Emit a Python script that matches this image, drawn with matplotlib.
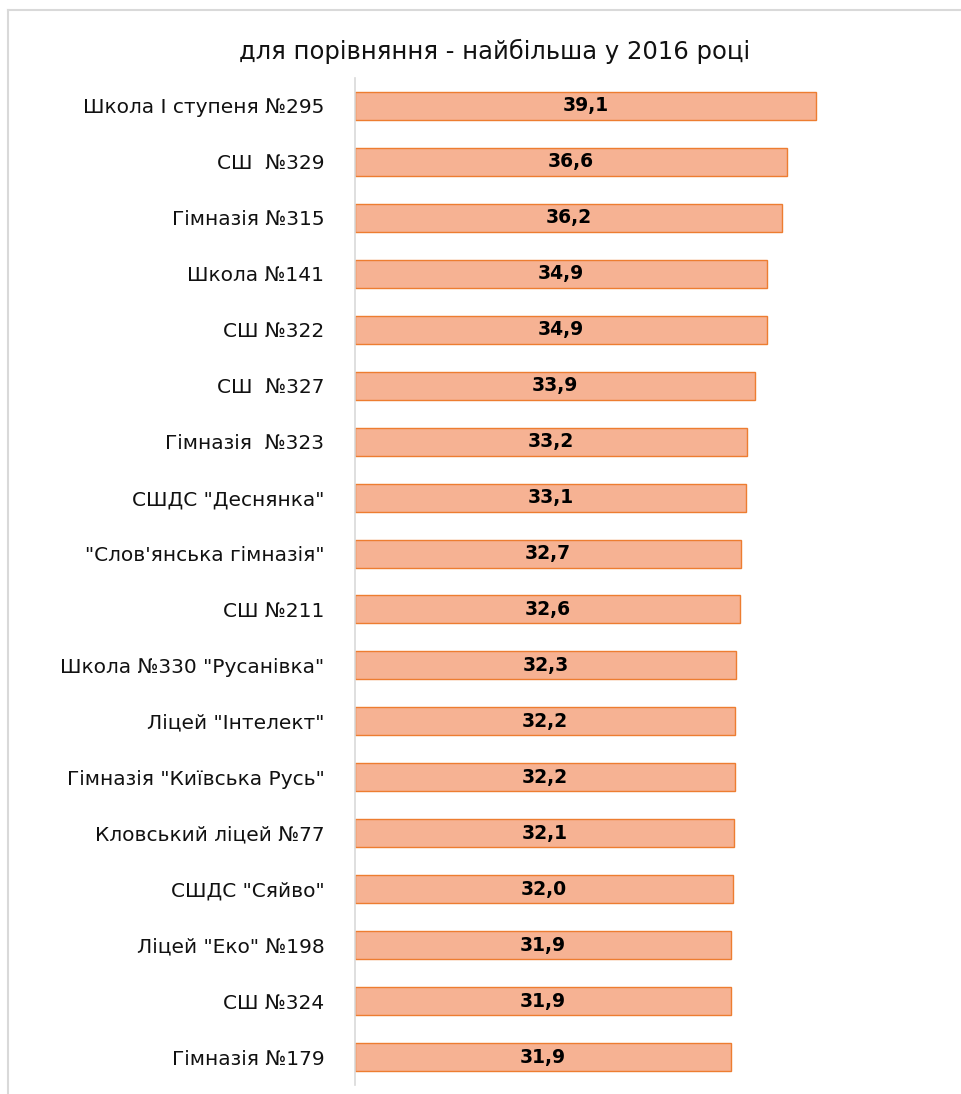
import matplotlib
matplotlib.use("Agg")
import matplotlib.pyplot as plt
from matplotlib.lines import Line2D
import numpy as np

categories = [
    "Школа І ступеня №295", "СШ  №329", "Гімназія №315", "Школа №141", "СШ №322",
    "СШ  №327", "Гімназія  №323", "СШДС \"Деснянка\"", "\"Слов'янська гімназія\"",
    "СШ №211", "Школа №330 \"Русанівка\"", "Ліцей \"Інтелект\"", "Гімназія \"Київська Русь\"",
    "Кловський ліцей №77", "СШДС \"Сяйво\"", "Ліцей \"Еко\" №198", "СШ №324", "Гімназія №179",
]
values = [39.1, 36.6, 36.2, 34.9, 34.9, 33.9, 33.2, 33.1, 32.7, 32.6, 32.3, 32.2, 32.2,
          32.1, 32.0, 31.9, 31.9, 31.9]
title = "для порівняння - найбільша у 2016 році"

plt.rcParams['font.family'] = ['DejaVu Sans']

fig = plt.figure(figsize=(9.61, 10.94), dpi=100)
ax = fig.add_axes([355/961, 9/1094, 590/961, 1007/1094])

y = np.arange(len(categories))
ax.barh(y, values, height=0.5, color="#F6B293", edgecolor="#ED7D31", linewidth=1.0, zorder=2)
ax.set_xlim(0, 50)
ax.set_ylim(len(categories) - 0.5, -0.5)

for yi, v in zip(y, values):
    ax.text(v / 2, yi, f"{v:.1f}".replace(".", ","), ha="center", va="center",
            fontsize=13.5, fontweight="bold", color="black", zorder=3)

ax.set_yticks(y)
ax.set_yticklabels(categories, fontsize=14.5, color="#111111")
ax.tick_params(axis="y", length=0, pad=22)
ax.set_xticks([])
for s in ["top", "right", "bottom"]:
    ax.spines[s].set_visible(False)
ax.spines["left"].set_color("#D9D9D9")
ax.spines["left"].set_linewidth(1.2)

fig.text(495/961, 1 - 51/1094, title, ha="center", va="center", fontsize=17.5, color="#111111")

# chart frame
fig.add_artist(Line2D([8/961, 1], [1 - 10/1094, 1 - 10/1094], color="#D9D9D9", lw=1.5))
fig.add_artist(Line2D([8/961, 8/961], [0, 1 - 10/1094], color="#D9D9D9", lw=1.5))

fig.savefig("out.png", dpi=100)
